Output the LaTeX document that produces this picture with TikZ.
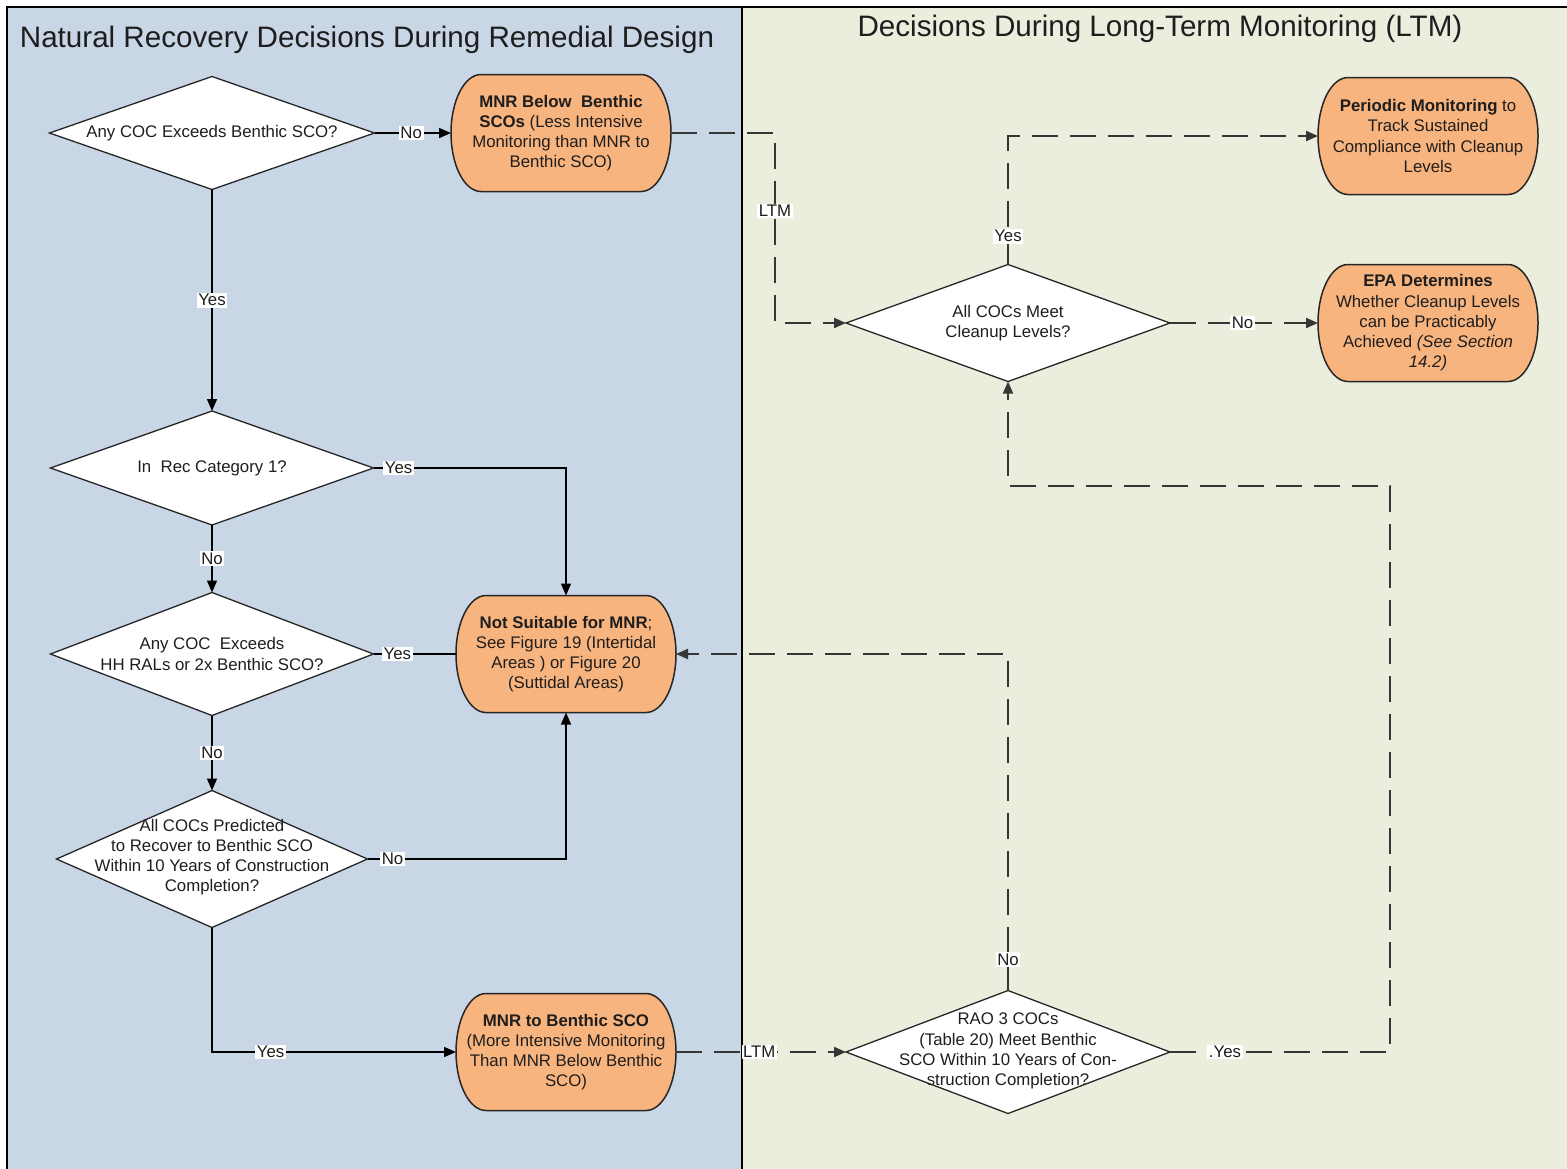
\documentclass[tikz,border=0pt]{standalone}
\usepackage{fontspec}
\setmainfont{Liberation Sans}
\usetikzlibrary{arrows.meta,shapes.geometric}
\definecolor{leftbg}{HTML}{C8D6E6}
\definecolor{rightbg}{HTML}{EBEEDD}
\definecolor{termfill}{HTML}{F8B47E}
\definecolor{dashcol}{HTML}{363636}
\definecolor{inkcol}{HTML}{1E1E1E}
\newcommand\bodyfont{\fontsize{8.4}{10.1}\selectfont}
\newcommand\titlefont{\fontsize{14.8}{17}\selectfont}
\newcommand\termnode[4]{%
  \path[termshape] (#2,#3) ++(-80,-58.5) -- ++(160,0)
    arc[start angle=90,end angle=-90,x radius=15pt,y radius=29.25pt]
    -- ++(-160,0)
    arc[start angle=270,end angle=90,x radius=15pt,y radius=29.25pt] -- cycle;
  \node[termtext] (#1) at (#2,#3) {#4};}
\begin{document}
\begin{tikzpicture}[x=0.5pt,y=-0.5pt,
  panel/.style={draw=black, line width=0.75pt},
  titletext/.style={font=\titlefont, text=inkcol, inner sep=0pt},
  termshape/.style={draw=black!85, fill=termfill, line width=0.75pt},
  termtext/.style={rectangle, minimum width=110pt, minimum height=58.5pt, inner sep=0pt, outer sep=0pt, align=center, font=\bodyfont, text=inkcol},
  dia/.style={diamond, draw=black!85, fill=white, line width=0.65pt, inner sep=0pt, outer sep=0pt},
  dtext/.style={align=center, font=\bodyfont, text=inkcol, inner sep=0pt},
  lbl/.style={fill=white, inner sep=0.8pt, font=\bodyfont, text=inkcol},
  sline/.style={draw=black, line width=0.7pt, -{Triangle[length=6pt,width=5pt]}},
  plainline/.style={draw=black, line width=0.7pt},
  dline/.style={draw=dashcol, line width=1pt, dash pattern=on 13pt off 6pt, -{Triangle[length=6pt,width=5pt]}}
]
\useasboundingbox (0,0) rectangle (1567,1168);
% panels
\path[fill=leftbg] (7,7) rectangle (742,1172);
\path[fill=rightbg] (742,7) rectangle (1570,1172);
\draw[panel] (7,1172) -- (7,7) -- (1570,7);
\draw[panel] (742,7) -- (742,1172);
\node[titletext] (ltitle) at (367,40) {Natural Recovery Decisions During Remedial Design};
\node[titletext] (rtitle) at (1160,29) {Decisions During Long-Term Monitoring (LTM)};

% diamonds
\node[dia, minimum width=162.5pt, minimum height=56.5pt] (d1) at (212,133) {};
\node[dtext] (d1t) at (d1) {Any COC Exceeds Benthic SCO?};
\node[dia, minimum width=161.5pt, minimum height=57pt] (d2) at (212,468) {};
\node[dtext] (d2t) at (d2) {In\ \ Rec Category 1?};
\node[dia, minimum width=161.5pt, minimum height=61.5pt] (d3) at (212,654) {};
\node[dtext] (d3t) at (d3) {Any COC\ \ Exceeds\\HH RALs or 2x Benthic SCO?};
\node[dia, minimum width=155.5pt, minimum height=68.5pt] (d4) at (212,859) {};
\node[dtext] (d4t) at (212,857) {All COCs Predicted\\to Recover to Benthic SCO\\Within 10 Years of Construction\\Completion?};
\node[dia, minimum width=162pt, minimum height=58.5pt] (d5) at (1008,323) {};
\node[dtext] (d5t) at (d5) {All COCs Meet\\Cleanup Levels?};
\node[dia, minimum width=162pt, minimum height=61.5pt] (d6) at (1008,1052) {};
\node[dtext] (d6t) at (1008,1051) {RAO 3 COCs\\(Table 20) Meet Benthic\\SCO Within 10 Years of Con-\\struction Completion?};

% terminals
\termnode{t1}{561}{133}{\textbf{MNR Below\ \ Benthic}\\\textbf{SCOs} (Less Intensive\\Monitoring than MNR to\\Benthic SCO)}
\termnode{t2}{566}{654}{\textbf{Not Suitable for MNR};\\See Figure 19 (Intertidal\\Areas ) or Figure 20\\(Suttidal Areas)}
\termnode{t3}{566}{1052}{\textbf{MNR to Benthic SCO}\\(More Intensive Monitoring\\Than MNR Below Benthic\\SCO)}
\termnode{t4}{1428}{136}{\textbf{Periodic Monitoring} to\\Track Sustained\\Compliance with Cleanup\\Levels}
\termnode{t5}{1428}{323}{\textbf{EPA Determines}\\Whether Cleanup Levels\\can be Practicably\\Achieved \textit{(See Section}\\\textit{14.2)}}

% solid connectors
\draw[sline] (d1.east) -- node[lbl, pos=0.48] {No} (t1.west);
\draw[sline] (d1.south) -- node[lbl] {Yes} (d2.north);
\draw[sline] (d2.east) -| node[lbl, pos=0.065] {Yes} (t2.north);
\draw[sline] (d2.south) -- node[lbl] {No} (d3.north);
\draw[plainline] (d3.east) -- node[lbl, pos=0.29] {Yes} (t2.west);
\draw[sline] (d3.south) -- node[lbl] {No} (d4.north);
\draw[sline] (d4.east) -| node[lbl, pos=0.063] {No} (t2.south);
\draw[sline] (d4.south) |- node[lbl, pos=0.62] {Yes} (t3.west);

% dashed connectors
\draw[dline] (t1.east) -- (775,133) |- node[lbl, pos=0.205] {LTM} (d5.west);
\draw[dline] (t3.east) -- node[lbl, pos=0.49] {LTM} (d6.west);
\draw[dline] (d6.north) |- node[lbl, pos=0.046] {No} (t2.east);
\draw[dline] (d6.east) -- node[lbl, pos=0.25] {.Yes} (1390,1052) -- (1390,486) -| (d5.south);
\draw[dline] (d5.north) |- node[lbl, pos=0.11] {Yes} (t4.west);
\draw[dline] (d5.east) -- node[lbl, pos=0.49] {No} (t5.west);
\end{tikzpicture}
\end{document}
